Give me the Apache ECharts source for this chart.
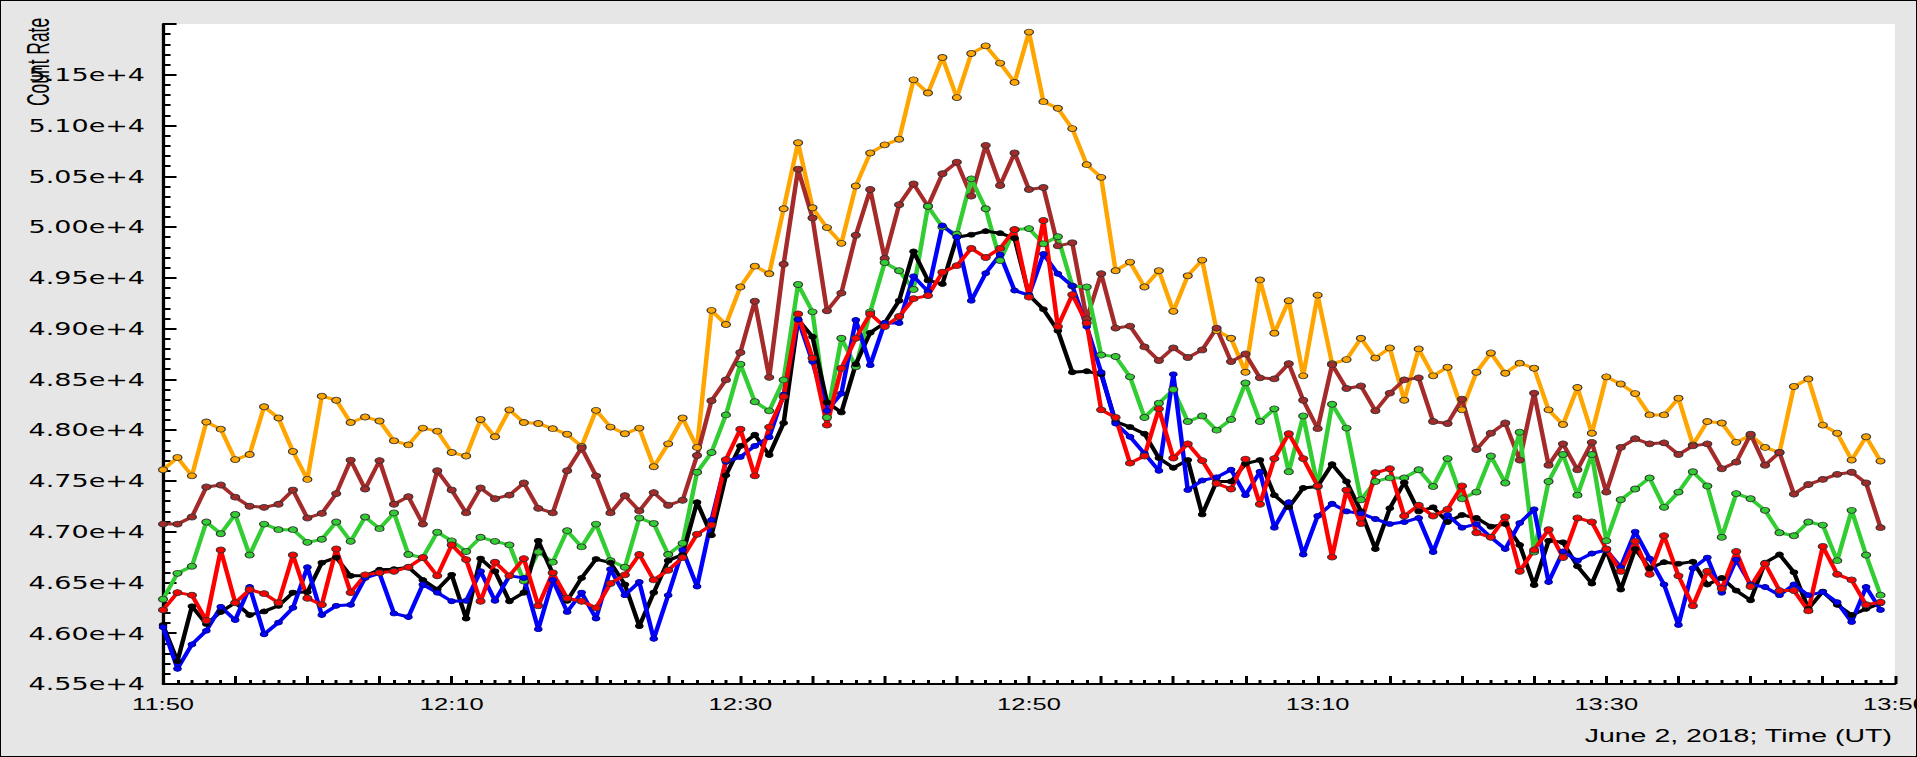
<!DOCTYPE html>
<html><head><meta charset="utf-8">
<script src="https://cdn.jsdelivr.net/npm/echarts@6/dist/echarts.min.js"></script>
<style>
html,body{margin:0;padding:0;background:#e6e6e6;overflow:hidden;}
#chart{position:absolute;left:0;top:0;width:1278px;height:757px;transform:scaleX(1.5);transform-origin:0 0;}
#border{position:absolute;left:0;top:0;width:1917px;height:757px;box-sizing:border-box;border:1px solid #000;pointer-events:none;}
</style></head><body>
<div id="chart"></div><div id="border"></div>
<script>
// x positions: minutes after 11:50 UT, one sample per minute
const startTime = '11:50';
const xTickLabels = ['11:50','12:10','12:30','12:50','13:10','13:30','13:50'];
const yAxisTitle = 'Count Rate';
const xAxisTitle = 'June 2, 2018; Time (UT)';

const orange = [47610,47730,47550,48080,48010,47710,47760,48230,48120,47790,47515,48335,48295,48075,48130,48090,47895,47855,48020,47990,
47780,47745,48105,47935,48200,48075,48065,48015,47960,47840,48195,48030,47965,48020,47640,47865,48120,47830,49180,49040,
49410,49615,49540,50180,50830,50190,49995,49840,50405,50730,50810,50865,51450,51320,51670,51275,51710,51785,51615,51425,
51920,51235,51170,50970,50615,50490,49570,49655,49410,49570,49170,49520,49675,48980,48905,48570,49480,48955,49275,48535,
49330,48655,48695,48905,48710,48810,48295,48800,48535,48620,48200,48570,48760,48560,48660,48610,48200,48055,48420,47970,
48525,48455,48360,48150,48150,48315,47855,48085,48070,47880,47950,47830,47780,48430,48505,48050,47970,47705,47935,47695];

const brown = [47075,47075,47145,47440,47460,47340,47250,47240,47270,47410,47135,47180,47375,47705,47420,47700,47270,47345,47075,47600,
47410,47185,47430,47325,47360,47480,47230,47185,47600,47825,47550,47185,47355,47205,47385,47260,47310,47750,48290,48495,
48765,49270,48520,49635,50570,50090,49175,49350,49920,50370,49690,50220,50425,50205,50525,50640,50305,50805,50410,50730,
50370,50390,49815,49845,49095,49540,49005,49025,48820,48685,48810,48715,48790,49005,48675,48750,48515,48505,48655,48295,
48015,48645,48410,48435,48190,48365,48495,48515,48085,48065,48305,47810,47970,48070,47705,48365,47655,47865,47610,47880,
47390,47830,47915,47865,47875,47760,47845,47865,47620,47685,47960,47655,47780,47370,47465,47515,47565,47585,47480,47040];

const green = [46335,46590,46660,47095,46980,47170,46770,47075,47020,47020,46895,46925,47095,46905,47145,47030,47185,46775,46745,46995,
46910,46805,46945,46905,46870,46515,46800,46700,47010,46850,47075,46715,46650,47135,47080,46775,46885,47585,47780,48150,
48650,48280,48190,48495,49435,49165,48125,48905,48625,49165,49650,49570,49385,50205,50000,49930,50475,50180,49670,49975,
49985,49835,49905,49420,49410,48740,48725,48525,48125,48265,48400,48085,48140,48000,48105,48465,48085,48210,47590,48140,
47445,48255,48020,47315,47495,47530,47530,47610,47445,47720,47325,47390,47745,47480,47980,46800,47495,47760,47360,47760,
46910,47315,47420,47530,47240,47390,47590,47450,46945,47375,47325,47210,46990,46960,47095,47065,46715,47210,46770,46375];

const black = [46080,45725,46265,46090,46210,46300,46180,46215,46270,46400,46405,46695,46745,46565,46565,46625,46630,46650,46525,46430,
46575,46145,46735,46610,46315,46400,46910,46590,46320,46545,46730,46695,46480,46070,46400,46715,46775,47290,46965,47555,
47845,47955,47755,48070,49090,48920,48275,48175,48650,48960,49055,49275,49760,49475,49440,49900,49925,49960,49940,49890,
49330,49190,48980,48570,48580,48550,48085,48030,47965,47725,47630,47705,47170,47495,47495,47670,47705,47360,47240,47430,
47445,47665,47495,47200,46830,47230,47485,47200,47240,47095,47165,47135,47050,47075,46870,46475,46910,46895,46660,46490,
46820,46430,46830,46640,46700,46685,46705,46480,46545,46420,46325,46695,46775,46600,46240,46410,46280,46180,46240,46295];

const blue = [46060,45650,45890,46025,46260,46130,46455,45990,46105,46250,46650,46180,46270,46280,46545,46590,46195,46160,46480,46400,
46315,46320,46610,46320,46565,46545,46040,46525,46210,46400,46145,46630,46375,46505,45945,46375,46820,46460,47115,47690,
47735,47845,47930,48350,49090,48675,48190,48360,49085,48640,49055,49055,49515,49365,50015,49900,49275,49545,49730,49375,
49330,49735,49540,49420,49020,48570,48065,47935,47770,47600,48550,47410,47505,47535,47610,47360,47590,47040,47290,46775,
47155,47275,47200,47180,47125,47075,47095,47135,46800,47165,47040,47075,46945,46830,47085,47220,46505,46805,46715,46785,
46820,46650,47000,46735,46480,46080,46640,46745,46400,46725,46480,46455,46375,46480,46375,46405,46305,46110,46455,46230];

const red = [46230,46400,46375,46125,46820,46300,46430,46390,46300,46770,46345,46280,46830,46400,46575,46595,46610,46650,46745,46565,
46870,46725,46315,46700,46565,46735,46270,46595,46345,46315,46250,46490,46575,46775,46525,46620,46745,46975,47065,47710,
48010,47550,48030,48330,49145,48710,48050,48610,48905,49145,49020,49120,49295,49325,49555,49620,49790,49700,49790,49975,
49310,50065,49020,49335,49055,48200,48125,47675,47745,48210,47725,47865,47700,47475,47420,47715,47270,47720,47965,47720,
47450,46750,47410,47080,47580,47620,47155,47260,47155,47220,47450,46990,46945,47145,46610,46820,47020,46745,47135,47095,
46830,46610,46905,46580,46960,46565,46270,46610,46440,46805,46460,46685,46420,46420,46220,46855,46580,46525,46280,46305];

const seriesDefs = [
  {name:'Orange', data:orange, color:'#FFA500', size:6, outline:'#333'},
  {name:'Brown',  data:brown,  color:'#A52A2A', size:6, outline:'#333'},
  {name:'Green',  data:green,  color:'#32CD32', size:6, outline:'#333'},
  {name:'Black',  data:black,  color:'#000000', size:5, outline:'#000'},
  {name:'Blue',   data:blue,   color:'#0000FF', size:5, outline:'#00008b'},
  {name:'Red',    data:red,    color:'#FF0000', size:6, outline:'#333'}
];

const chart = echarts.init(document.getElementById('chart'), null, {renderer:'svg'});
const option = {
  animation:false,
  backgroundColor:'#e6e6e6',
  grid:{left:108.7, right:14.7, top:24, bottom:73, show:true, backgroundColor:'#ffffff', borderWidth:0,
        containLabel:false, outerBoundsMode:'none'},
  graphic:[{type:'text', x:25, y:106, rotation:Math.PI/2, scaleX:0.83, scaleY:1,
    style:{text:yAxisTitle, font:'21px "Liberation Sans", Arial, sans-serif', fill:'#000', align:'left', verticalAlign:'middle'}}],
  xAxis:{type:'value', min:0, max:120, interval:5,
    name:xAxisTitle, nameLocation:'end', nameGap:-2,
    nameTextStyle:{fontFamily:'Liberation Sans', fontSize:19, color:'#000', align:'right', verticalAlign:'top', padding:[42,0,0,0]},
    axisLine:{show:true, lineStyle:{color:'#000', width:2}},
    axisTick:{show:true, inside:true, length:8, lineStyle:{color:'#000', width:2}},
    minorTick:{show:true, splitNumber:5, length:4, lineStyle:{color:'#000', width:2}},
    splitLine:{show:false},
    axisLabel:{margin:12, color:'#000', fontFamily:'Liberation Sans', fontSize:17, showMaxLabel:true, hideOverlap:false,
      formatter:function(v){ return (v % 20 === 0) ? xTickLabels[v/20] : ''; }}
  },
  yAxis:{type:'value', min:45500, max:52000, interval:500,
    axisLine:{show:true, lineStyle:{color:'#000', width:2.2}},
    axisTick:{show:true, inside:true, length:9, lineStyle:{color:'#000', width:2}},
    minorTick:{show:true, splitNumber:5, length:5, lineStyle:{color:'#000', width:2}},
    splitLine:{show:false},
    axisLabel:{margin:12, color:'#000', fontFamily:'DejaVu Sans', fontSize:18, showMaxLabel:false, showMinLabel:true,
      formatter:function(v){ return (v/1e4).toFixed(2) + 'e+4'; }}
  },
  series: seriesDefs.map(function(s){
    return {type:'line', name:s.name, data:s.data.map(function(v,i){ return [i, v]; }),
      symbol:'circle', symbolSize:s.size, showAllSymbol:true,
      lineStyle:{color:s.color, width:3},
      itemStyle:{color:s.color, borderColor:s.outline, borderWidth:0.8},
      emphasis:{disabled:true}};
  })
};
chart.setOption(option);
</script>
</body></html>
